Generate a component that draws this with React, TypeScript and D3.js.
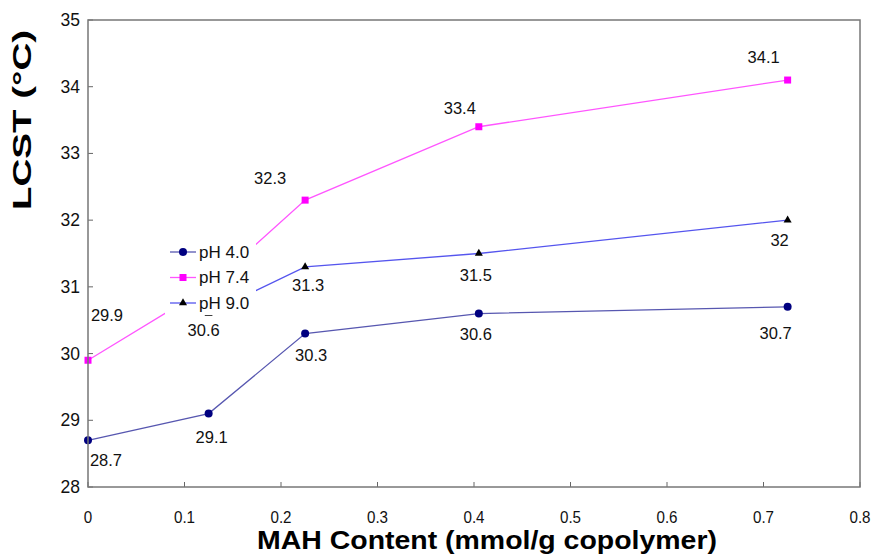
import React from "react";
import * as d3 from "d3";

const xTicks = [0, 0.1, 0.2, 0.3, 0.4, 0.5, 0.6, 0.7, 0.8];
const yTicks = [28, 29, 30, 31, 32, 33, 34, 35];

const ph40X = [0, 0.125, 0.225, 0.405, 0.725];
const ph40Y = [28.7, 29.1, 30.3, 30.6, 30.7];
const ph74X = [0, 0.125, 0.225, 0.405, 0.725];
const ph74Y = [29.9, 31.0, 32.3, 33.4, 34.1];
const ph90X = [0.125, 0.225, 0.405, 0.725];
const ph90Y = [30.6, 31.3, 31.5, 32.0];

// label texts (as printed on the chart)
const ph40Labels = ["28.7", "29.1", "30.3", "30.6", "30.7"];
const ph74Labels = ["29.9", "", "32.3", "33.4", "34.1"];
const ph90Labels = ["30.6", "31.3", "31.5", "32"];

// label offsets relative to point (dx, dy to text center)
const ph40Off = [[18, 20], [3, 23], [6, 21], [-3, 20], [-12, 26]];
const ph74Off = [[19, -45], [0, 0], [-35, -22], [-19, -19], [-24, -23]];
const ph90Off = [[-5, 16], [3, 18], [-3, 21], [-8, 20]];

const W = 874;
const H = 558;
const M = { left: 88, right: 860, top: 20, bottom: 487 };
const FONT = "'Liberation Sans', Arial, Helvetica, sans-serif";

export default function App() {
  const x = d3.scaleLinear().domain([0, 0.8]).range([M.left, M.right]);
  const y = d3.scaleLinear().domain([28, 35]).range([M.bottom, M.top]);
  const line = d3
    .line<[number, number]>()
    .x((d) => x(d[0]))
    .y((d) => y(d[1]));

  const series = [
    { name: "pH 4.0", xs: ph40X, ys: ph40Y, labels: ph40Labels, off: ph40Off, line: "#5757b0", mark: "#000080", shape: "circle" },
    { name: "pH 7.4", xs: ph74X, ys: ph74Y, labels: ph74Labels, off: ph74Off, line: "#ff55ff", mark: "#ff00ff", shape: "square" },
    { name: "pH 9.0", xs: ph90X, ys: ph90Y, labels: ph90Labels, off: ph90Off, line: "#5555ee", mark: "#000000", shape: "triangle" },
  ];

  const marker = (shape: string, cx: number, cy: number, color: string, key?: any) => {
    if (shape === "circle") return <circle key={key} cx={cx} cy={cy} r={4} fill={color} />;
    if (shape === "square") return <rect key={key} x={cx - 3.5} y={cy - 3.5} width={7} height={7} fill={color} />;
    const p = d3.symbol().type(d3.symbolTriangle).size(28)();
    return <path key={key} d={p || ""} transform={`translate(${cx},${cy})`} fill={color} />;
  };

  return (
    <svg width={W} height={H} style={{ position: "fixed", left: 0, top: 0, background: "#fff" }} fontFamily={FONT}>
      <rect x={0} y={0} width={W} height={H} fill="#fff" />
      {/* ticks */}
      {xTicks.map((t) => (
        <g key={"xt" + t}>
          <line x1={x(t)} x2={x(t)} y1={M.bottom} y2={M.bottom - 5} stroke="#666" strokeWidth={1} />
          <text
            transform={`translate(${x(t)},517) scale(0.92,1)`}
            textAnchor="middle"
            dominantBaseline="central"
            fontSize={16.5}
            fill="#111"
          >
            {t === 0 ? "0" : String(t)}
          </text>
        </g>
      ))}
      {yTicks.map((t) => (
        <g key={"yt" + t}>
          <line x1={M.left} x2={M.left + 5} y1={y(t)} y2={y(t)} stroke="#666" strokeWidth={1} />
          <text x={80} y={y(t)} textAnchor="end" dominantBaseline="central" fontSize={17.5} fill="#111">
            {t}
          </text>
        </g>
      ))}
      {/* series lines */}
      {series.map((s) => (
        <path
          key={"l" + s.name}
          d={line(s.xs.map((v, i) => [v, s.ys[i]] as [number, number])) || ""}
          fill="none"
          stroke={s.line}
          strokeWidth={1.3}
        />
      ))}
      {series.map((s) => (
        <g key={"m" + s.name}>{s.xs.map((v, i) => marker(s.shape, x(v), y(s.ys[i]), s.mark, i))}</g>
      ))}
      {/* legend */}
      <rect x={165} y={238} width={91} height={77} fill="#fff" />
      {series.map((s, i) => {
        const ly = 252 + i * 25.5;
        return (
          <g key={"lg" + s.name}>
            <line x1={170} x2={196} y1={ly} y2={ly} stroke={s.line} strokeWidth={1.3} />
            {marker(s.shape, 183, ly, s.mark)}
            <text x={199} y={ly} dominantBaseline="central" fontSize={17} fill="#111">
              {s.name}
            </text>
          </g>
        );
      })}
      {/* data labels */}
      {series.map((s) => (
        <g key={"dl" + s.name}>
          {s.xs.map((v, i) =>
            s.labels[i] ? (
              <text
                key={i}
                x={x(v) + s.off[i][0]}
                y={y(s.ys[i]) + s.off[i][1]}
                textAnchor="middle"
                dominantBaseline="central"
                fontSize={16.5}
                fill="#111"
              >
                {s.labels[i]}
              </text>
            ) : null
          )}
        </g>
      ))}
      {/* frame */}
      <rect x={M.left} y={M.top} width={M.right - M.left} height={M.bottom - M.top} fill="none" stroke="#777" strokeWidth={1.5} />
      {/* axis titles */}
      <text
        x={487}
        y={549}
        textAnchor="middle"
        fontSize={26}
        fontWeight="bold"
        fill="#000"
        textLength={460}
        lengthAdjust="spacingAndGlyphs"
      >
        MAH Content (mmol/g copolymer)
      </text>
      <text
        transform="translate(31,120) rotate(-90)"
        textAnchor="middle"
        fontSize={25}
        fontWeight="bold"
        fill="#000"
        textLength={180}
        lengthAdjust="spacingAndGlyphs"
      >
        LCST (°C)
      </text>
    </svg>
  );
}
